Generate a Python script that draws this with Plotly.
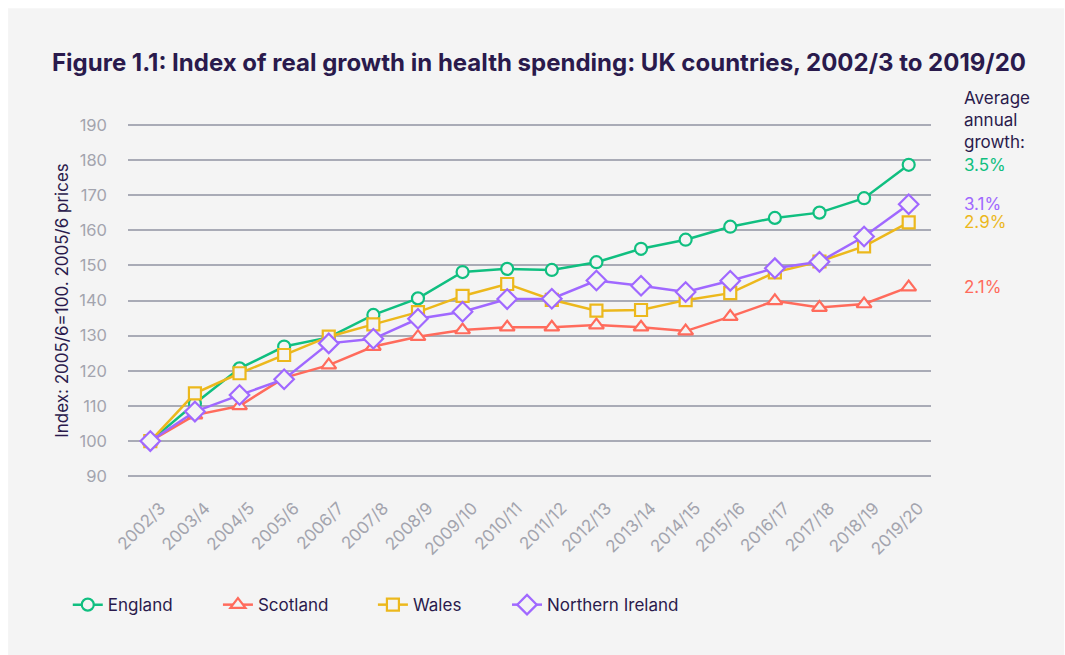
import plotly.graph_objects as go

# Financial years on the category axis
years = ["2002/3", "2003/4", "2004/5", "2005/6", "2006/7", "2007/8", "2008/9",
         "2009/10", "2010/11", "2011/12", "2012/13", "2013/14", "2014/15",
         "2015/16", "2016/17", "2017/18", "2018/19", "2019/20"]

# Real-terms spending index (2005/6 = 100 prices)
england = [100, 110.7, 120.7, 126.9, 129.5, 135.9, 140.6, 148.1, 149.0, 148.7,
           150.9, 154.7, 157.3, 161.0, 163.5, 165.0, 169.1, 178.6]
scotland = [100, 107.4, 110.0, 118.0, 121.6, 126.9, 129.7, 131.6, 132.4, 132.4,
            133.0, 132.4, 131.3, 135.4, 139.9, 138.0, 139.0, 143.8]
wales = [100, 113.6, 119.3, 124.5, 129.7, 133.2, 136.7, 141.3, 144.7, 140.2,
         137.1, 137.3, 140.1, 142.1, 148.0, 151.1, 155.4, 162.2]
n_ireland = [100, 108.4, 113.1, 117.6, 127.8, 129.1, 134.8, 136.8, 140.4, 140.5,
             145.7, 144.2, 142.4, 145.6, 149.2, 151.0, 158.2, 167.4]

# Average annual growth labels
growth = {"England": "3.5%", "Scotland": "2.1%", "Wales": "2.9%", "Northern Ireland": "3.1%"}

y_ticks = [90, 100, 110, 120, 130, 140, 150, 160, 170, 180, 190]

BG = "#f4f4f4"
INK = "#2a1a4c"
GREY = "#a3a4ae"
FONT = "Inter, sans-serif"

# name, values, colour, marker symbol, marker size, legend id, legend x (paper)
series = [
    ("England", england, "#10bf80", "circle", 12, "legend", -0.075),
    ("Scotland", scotland, "#ff6b5c", "triangle-up", 13, "legend2", 0.112),
    ("Wales", wales, "#ecb81c", "square", 12, "legend3", 0.305),
    ("Northern Ireland", n_ireland, "#a068ff", "diamond", 15, "legend4", 0.472),
]

fig = go.Figure()
for name, vals, color, symbol, size, leg, _ in series:
    fig.add_trace(go.Scatter(
        x=years, y=vals, name=name, mode="lines+markers", showlegend=True,
        line=dict(color=color, width=2.5),
        marker=dict(symbol=symbol, size=size, color=BG,
                    line=dict(color=color, width=2.2)),
        legend=leg,
    ))

# Growth labels sit level with each series' final value
annotations = [
    dict(text="Average<br>annual<br>growth:", xref="paper", yref="paper",
         x=1.039, y=1.104, xanchor="left", yanchor="top", align="left",
         showarrow=False, font=dict(family=FONT, size=17, color=INK)),
]
for name, vals, color, *_ in series:
    annotations.append(dict(
        text=growth[name], xref="paper", yref="y", x=1.039, y=vals[-1],
        xanchor="left", yanchor="middle", showarrow=False,
        font=dict(family=FONT, size=17, color=color)))

legend_style = dict(orientation="h", xanchor="left", yanchor="middle",
                    bgcolor="rgba(0,0,0,0)", font=dict(family=FONT, size=17, color=INK),
                    itemwidth=30)
leg_y = -0.358
legends = {leg: dict(x=lx, y=leg_y, **legend_style) for _, _, _, _, _, leg, lx in series}

fig.update_layout(
    width=1065, height=655,
    margin=dict(l=128, r=134, t=123, b=177, autoexpand=False),
    paper_bgcolor="white", plot_bgcolor=BG,
    font=dict(family=FONT, color=INK),
    title=dict(text="<b>Figure 1.1: Index of real growth in health spending: UK countries, 2002/3 to 2019/20</b>",
               x=52 / 1065, xanchor="left", y=1 - 63 / 655, yanchor="middle",
               font=dict(family=FONT, size=24, color=INK)),
    xaxis=dict(type="category", range=[-0.5, 17.5], showgrid=False, zeroline=False,
               showline=False, ticks="", tickangle=-45, ticklabelstandoff=16,
               ticklabelshift=10,
               tickfont=dict(family=FONT, size=17, color=GREY)),
    yaxis=dict(range=[89.5, 190.5], tickvals=y_ticks, showgrid=True,
               gridcolor="#a9abb6", gridwidth=1.5, zeroline=False, showline=False,
               ticks="", ticklabelstandoff=20, tickfont=dict(family=FONT, size=16.5, color=GREY),
               title=dict(text="Index: 2005/6=100. 2005/6 prices", standoff=6,
                          font=dict(family=FONT, size=17, color=INK))),
    annotations=annotations,
    shapes=[dict(type="rect", xref="paper", yref="paper", layer="below",
                 x0=(8 - 128) / 803.7, x1=(1065 - 128) / 803.7,
                 y0=(478 - 655) / 354.5, y1=(478 - 9) / 354.5,
                 fillcolor=BG, line=dict(width=0))],
    **legends,
)

fig.write_html("out.html")
